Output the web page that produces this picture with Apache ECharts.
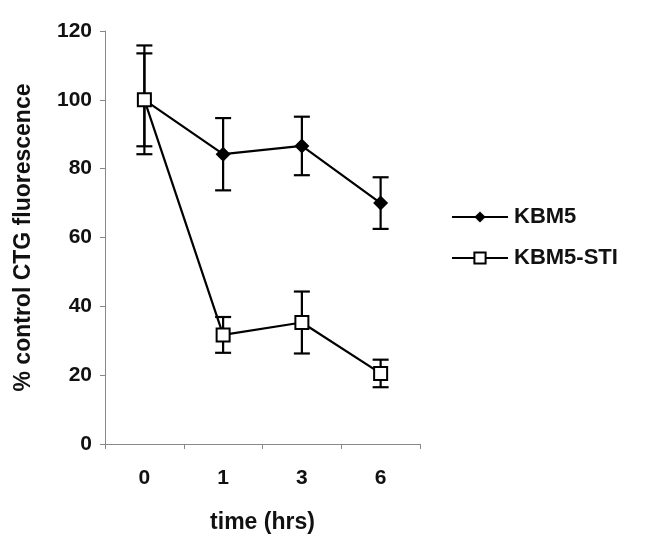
<!DOCTYPE html>
<html>
<head>
<meta charset="utf-8">
<script src="https://cdn.jsdelivr.net/npm/echarts@6/dist/echarts.min.js"></script>
<style>html,body{margin:0;padding:0;background:#fff}#c{width:645px;height:546px}</style>
</head>
<body>
<div id="c"></div>
<script>
var categories = ['0', '1', '3', '6'];
var kbm5 = [100, 84.2, 86.6, 70];
var kbm5Err = [15.8, 10.5, 8.5, 7.5];
var sti = [100, 31.7, 35.3, 20.5];
var stiErr = [13.5, 5.2, 9, 4];
var yTicks = [0, 20, 40, 60, 80, 100, 120];

var FONT = 'Liberation Sans, Arial, sans-serif';

function errData(vals, errs) {
  return vals.map(function (v, i) { return [i, v - errs[i], v + errs[i]]; });
}
function renderErr(params, api) {
  var x = api.value(0);
  var lo = api.coord([x, api.value(1)]);
  var hi = api.coord([x, api.value(2)]);
  var hw = 8;
  var st = { stroke: '#000', lineWidth: 2.2 };
  return {
    type: 'group',
    children: [
      { type: 'line', shape: { x1: hi[0], y1: hi[1], x2: lo[0], y2: lo[1] }, style: st },
      { type: 'line', shape: { x1: hi[0] - hw, y1: hi[1], x2: hi[0] + hw, y2: hi[1] }, style: st },
      { type: 'line', shape: { x1: lo[0] - hw, y1: lo[1], x2: lo[0] + hw, y2: lo[1] }, style: st }
    ]
  };
}

var chart = echarts.init(document.getElementById('c'), null, { renderer: 'canvas' });
chart.setOption({
  animation: false,
  backgroundColor: '#fff',
  textStyle: { fontFamily: FONT },
  grid: { left: 105, right: 225, top: 31, bottom: 102, containLabel: false },
  legend: {
    orient: 'vertical',
    left: 451,
    top: 206,
    padding: 0,
    itemWidth: 56,
    itemHeight: 14,
    itemGap: 19,
    textStyle: { fontFamily: FONT, fontWeight: 'bold', fontSize: 22, color: '#111', padding: [0, 0, 0, 1] },
    data: ['KBM5', 'KBM5-STI']
  },
  xAxis: {
    type: 'category',
    data: categories,
    boundaryGap: true,
    name: 'time (hrs)',
    nameLocation: 'middle',
    nameGap: 67,
    nameTextStyle: { fontFamily: FONT, fontWeight: 'bold', fontSize: 23, color: '#111' },
    axisLine: { lineStyle: { color: '#888', width: 1 } },
    axisTick: { show: true, length: 5, lineStyle: { color: '#888' } },
    axisLabel: { fontFamily: FONT, fontWeight: 'bold', fontSize: 21, color: '#111', margin: 24 },
    splitLine: { show: false }
  },
  yAxis: {
    type: 'value',
    min: yTicks[0],
    max: yTicks[yTicks.length - 1],
    interval: 20,
    name: '% control CTG fluorescence',
    nameLocation: 'middle',
    nameGap: 70,
    nameRotate: 90,
    nameTextStyle: { fontFamily: FONT, fontWeight: 'bold', fontSize: 23, color: '#111' },
    axisLine: { show: true, lineStyle: { color: '#888', width: 1 } },
    axisTick: { show: true, length: 5, lineStyle: { color: '#888' } },
    axisLabel: { fontFamily: FONT, fontWeight: 'bold', fontSize: 21, color: '#111', margin: 13 },
    splitLine: { show: false }
  },
  series: [
    {
      type: 'custom', name: 'errK', renderItem: renderErr, data: errData(kbm5, kbm5Err),
      encode: { x: 0, y: [1, 2] }, z: 1, silent: true
    },
    {
      type: 'custom', name: 'errS', renderItem: renderErr, data: errData(sti, stiErr),
      encode: { x: 0, y: [1, 2] }, z: 1, silent: true
    },
    {
      name: 'KBM5', type: 'line', data: kbm5, z: 3,
      symbol: 'diamond', symbolSize: 15,
      lineStyle: { color: '#000', width: 2.2 },
      itemStyle: { color: '#000', borderColor: '#000', borderWidth: 0 }
    },
    {
      name: 'KBM5-STI', type: 'line', data: sti, z: 4,
      symbol: 'rect', symbolSize: 13,
      lineStyle: { color: '#000', width: 2.2 },
      itemStyle: { color: '#fff', borderColor: '#000', borderWidth: 2 }
    }
  ]
});
</script>
</body>
</html>
